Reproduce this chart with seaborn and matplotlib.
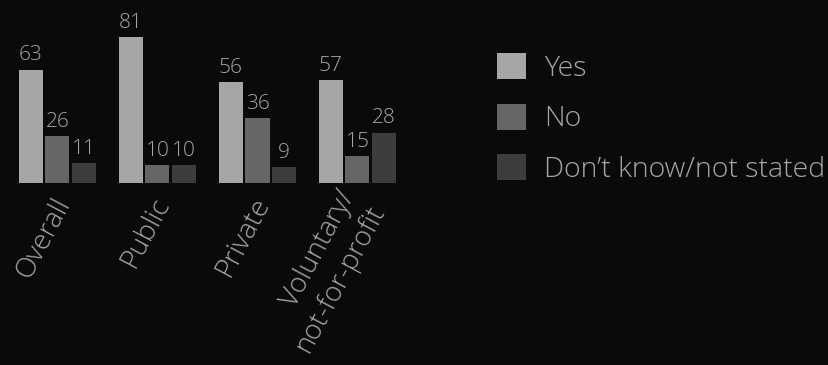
import matplotlib
matplotlib.use("Agg")
import matplotlib.pyplot as plt
import matplotlib.transforms as mtransforms
import seaborn as sns
import pandas as pd
from matplotlib.patches import Patch

sectors = ["Overall", "Public", "Private", "Voluntary/\nnot-for-profit"]
responses = ["Yes", "No", "Don\u2019t know/not stated"]
yes_vals = [63, 81, 56, 57]
no_vals = [26, 10, 36, 15]
dk_vals = [11, 10, 9, 28]
colors = ["#a6a6a6", "#666666", "#3d3d3d"]

bg = "#0a0a0a"
fg = "#a6a6a6"

rows = []
for resp, vals in zip(responses, [yes_vals, no_vals, dk_vals]):
    for s, v in zip(sectors, vals):
        rows.append({"sector": s, "response": resp, "value": v})
df = pd.DataFrame(rows)

sns.set_theme(style="dark")
plt.rcParams["font.family"] = ["Open Sans", "DejaVu Sans"]
plt.rcParams["font.weight"] = "light"

fig = plt.figure(figsize=(8.29, 3.65), dpi=100, facecolor=bg)
W, H = 829, 365
ax = fig.add_axes([7.5 / W, (H - 183) / H, 400 / W, 180 / H])
ax.set_facecolor(bg)

sns.barplot(data=df, x="sector", y="value", hue="response", order=sectors,
            hue_order=responses, palette=colors, width=0.8, gap=0.1,
            saturation=1, ax=ax, legend=False, linewidth=0)

ax.set_ylim(0, 100)
ax.set_xlim(-0.5, 3.5)
for c in ax.containers:
    ax.bar_label(c, padding=3, color=fg, fontsize=15, fontweight="light")

ax.set_xlabel("")
ax.set_ylabel("")
ax.set_yticks([])
ax.tick_params(axis="x", length=0, pad=12)
shift = mtransforms.ScaledTranslation(6 / 100, 0, fig.dpi_scale_trans)
for lab in ax.get_xticklabels():
    lab.set_rotation(62)
    lab.set_ha("right")
    lab.set_va("center")
    lab.set_rotation_mode("anchor")
    lab.set_color(fg)
    lab.set_fontsize(20)
    lab.set_fontweight("light")
    lab.set_linespacing(1.25)
    lab.set_transform(lab.get_transform() + shift)
for sp in ax.spines.values():
    sp.set_visible(False)
ax.grid(False)

handles = [Patch(facecolor=c, edgecolor="none") for c in colors]
leg = fig.legend(handles, responses, loc="upper left",
                 bbox_to_anchor=(497 / W, 1 - 53 / H), frameon=False,
                 prop={"size": 20.5, "weight": "light"},
                 handlelength=1.02, handleheight=1.02,
                 handletextpad=0.62, labelspacing=0.74, borderaxespad=0,
                 borderpad=0)
for t in leg.get_texts():
    t.set_color(fg)

fig.savefig("out.png", dpi=100, facecolor=bg)
